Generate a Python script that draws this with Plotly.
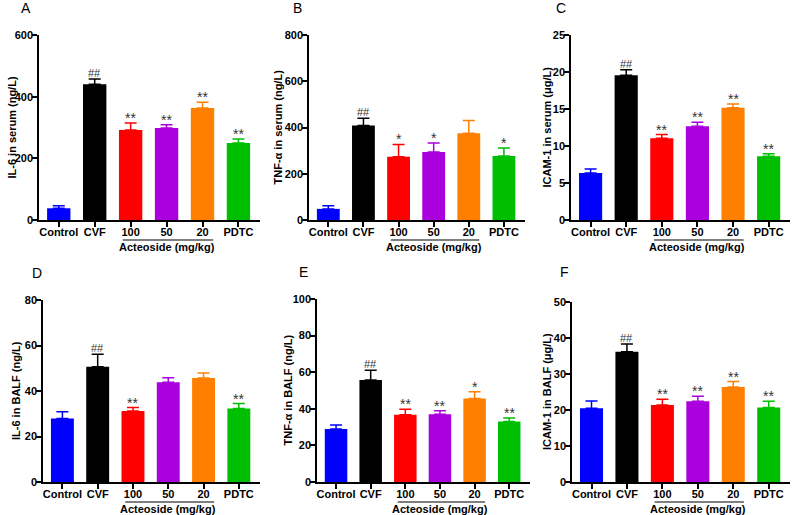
import plotly.graph_objects as go

W, H = 793, 515

groups = ["Control", "CVF", "100", "50", "20", "PDTC"]
colors = ["#0000FF", "#000000", "#FF0000", "#AA00DD", "#FF8000", "#00BF00"]

# Panel A: IL-6 in serum
il6_serum = [38, 440, 292, 298, 363, 250]
il6_serum_err = [8, 17, 23, 11, 19, 13]
il6_serum_sig = ["", "##", "**", "**", "**", "**"]

# Panel B: TNF-alpha in serum
tnf_serum = [48, 409, 274, 294, 375, 277]
tnf_serum_err = [14, 31, 53, 39, 55, 34]
tnf_serum_sig = ["", "##", "*", "*", "", "*"]

# Panel C: ICAM-1 in serum
icam_serum = [6.35, 19.55, 11.04, 12.66, 15.18, 8.6]
icam_serum_err = [0.55, 0.75, 0.5, 0.55, 0.5, 0.36]
icam_serum_sig = ["", "##", "**", "**", "**", "**"]

# Panel D: IL-6 in BALF
il6_balf = [27.9, 50.7, 31.2, 43.8, 45.7, 32.3]
il6_balf_err = [3.0, 5.5, 1.5, 2.0, 2.2, 2.2]
il6_balf_sig = ["", "##", "**", "", "", "**"]

# Panel E: TNF-alpha in BALF
tnf_balf = [29.0, 55.7, 36.7, 37.0, 45.6, 33.0]
tnf_balf_err = [2.2, 5.4, 3.1, 1.9, 3.7, 2.0]
tnf_balf_sig = ["", "##", "**", "**", "*", "**"]

# Panel F: ICAM-1 in BALF
icam_balf = [20.5, 36.2, 21.4, 22.4, 26.4, 20.7]
icam_balf_err = [2.0, 2.1, 1.6, 1.4, 1.5, 1.7]
icam_balf_sig = ["", "##", "**", "**", "**", "**"]

group_label = "Acteoside (mg/kg)"

panels = [
    dict(letter="A", title="IL-6 in serum (ng/L)", v=il6_serum, e=il6_serum_err, s=il6_serum_sig,
         ymax=600, dtick=200, box=(39, 260, 35, 220), tx=11, lpos=(26, 8), gl=240, gt=247),
    dict(letter="B", title="TNF-α in serum (ng/L)", v=tnf_serum, e=tnf_serum_err, s=tnf_serum_sig,
         ymax=800, dtick=200, box=(309, 525, 35, 220), tx=277, lpos=(297, 8), gl=240, gt=247),
    dict(letter="C", title="ICAM-1 in serum (μg/L)", v=icam_serum, e=icam_serum_err, s=icam_serum_sig,
         ymax=25, dtick=5, box=(571, 790, 35, 220), tx=546, lpos=(561, 8), gl=240, gt=247),
    dict(letter="D", title="IL-6 in BALF (ng/L)", v=il6_balf, e=il6_balf_err, s=il6_balf_sig,
         ymax=80, dtick=20, box=(43, 260, 300, 482), tx=16, lpos=(37, 273), gl=502, gt=509),
    dict(letter="E", title="TNF-α in BALF (ng/L)", v=tnf_balf, e=tnf_balf_err, s=tnf_balf_sig,
         ymax=100, dtick=20, box=(317, 530, 299, 482), tx=287, lpos=(303, 272), gl=502, gt=509),
    dict(letter="F", title="ICAM-1 in BALF (μg/L)", v=icam_balf, e=icam_balf_err, s=icam_balf_sig,
         ymax=50, dtick=10, box=(572, 790, 302, 482), tx=547, lpos=(564, 272), gl=502, gt=509),
]

FONT = "Liberation Sans, Arial, sans-serif"

fig = go.Figure()
annotations = []
shapes = []

def px_x(p):
    return p / W

def px_y(p):
    return (H - p) / H

for k, p in enumerate(panels):
    n = "" if k == 0 else str(k + 1)
    xa, ya = "x" + n, "y" + n
    for i, g in enumerate(groups):
        fig.add_trace(go.Bar(
            x=[i], y=[p["v"][i]], width=0.65,
            marker=dict(color=colors[i], line=dict(width=0)),
            error_y=dict(type="data", array=[p["e"][i]], arrayminus=[0], symmetric=False,
                         color=colors[i], thickness=1.5, width=6),
            xaxis=xa, yaxis=ya, showlegend=False, hoverinfo="skip",
        ))
        sig = p["s"][i]
        if sig:
            is_star = sig.startswith("*")
            annotations.append(dict(
                x=i, y=p["v"][i] + p["e"][i], xref=xa, yref=ya,
                text=sig, showarrow=False, yanchor="bottom",
                yshift=-5 if is_star else -2,
                font=dict(family=FONT, size=14 if is_star else 11, color="#333333"),
            ))
    x0, x1, yt, yb = p["box"]
    axis_common = dict(showline=True, linecolor="black", linewidth=1.5, ticks="outside",
                       ticklen=5, tickwidth=1.5, tickcolor="black", showgrid=False,
                       zeroline=False, automargin=False,
                       tickfont=dict(family=FONT, size=11, color="black", weight="bold"))
    fig.update_layout(**{
        ("xaxis" + n): dict(domain=[px_x(x0), px_x(x1)], range=[-0.55, 5.6],
                           tickvals=list(range(len(groups))), ticktext=groups,
                           ticklabelstandoff=-4, anchor=ya, **axis_common),
        ("yaxis" + n): dict(domain=[px_y(yb), px_y(yt)], range=[0, p["ymax"]],
                           dtick=p["dtick"], ticklabelstandoff=-3, anchor=xa, **axis_common),
    })
    annotations.append(dict(
        x=px_x(p["tx"]), y=px_y((yt + yb) / 2), xref="paper", yref="paper",
        text="<b>" + p["title"] + "</b>", textangle=-90, showarrow=False,
        xanchor="center", yanchor="middle",
        font=dict(family=FONT, size=11, color="black"),
    ))
    annotations.append(dict(
        x=px_x(p["lpos"][0]), y=px_y(p["lpos"][1]), xref="paper", yref="paper",
        text=p["letter"], showarrow=False, xanchor="center", yanchor="middle",
        font=dict(family=FONT, size=14, color="black"),
    ))
    shapes.append(dict(type="line", xref=xa, yref="paper", x0=1.78, x1=4.3,
                       y0=px_y(p["gl"]), y1=px_y(p["gl"]),
                       line=dict(color="black", width=1.2)))
    annotations.append(dict(
        x=3, y=px_y(p["gt"]), xref=xa, yref="paper", text="<b>" + group_label + "</b>",
        showarrow=False, xanchor="center", yanchor="middle",
        font=dict(family=FONT, size=11, color="black"),
    ))

fig.update_layout(
    width=W, height=H, margin=dict(l=0, r=0, t=0, b=0),
    paper_bgcolor="white", plot_bgcolor="white", barmode="overlay",
    annotations=annotations, shapes=shapes, template="none",
    font=dict(family=FONT),
)

fig.write_html("out.html", config={"displayModeBar": False, "responsive": False},
               post_script="document.body.style.margin='0';document.body.style.overflow='hidden';")
